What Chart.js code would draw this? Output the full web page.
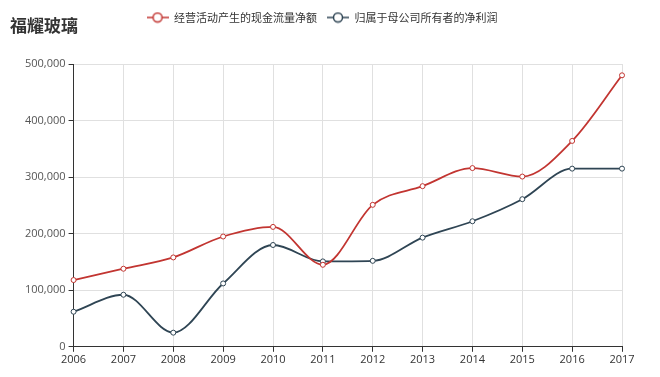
<!DOCTYPE html>
<html>
<head>
<meta charset="utf-8">
<script src="https://cdn.jsdelivr.net/npm/chart.js@4/dist/chart.umd.min.js"></script>
<style>
  html, body { margin: 0; padding: 0; background: #fff; }
  #wrap { position: relative; width: 660px; height: 377px; }
  #title { position: absolute; left: 10px; top: 12px; font: bold 17px "Noto Sans CJK SC", sans-serif; color: #333; }
</style>
</head>
<body>
<div id="wrap">
  <canvas id="myChart" width="660" height="377"></canvas>
  <div id="title">福耀玻璃</div>
</div>
<script>
const years = ["2006","2007","2008","2009","2010","2011","2012","2013","2014","2015","2016","2017"];
const cashFlow = [118000,138000,158000,195000,212000,145000,251000,284000,316000,301000,364000,480000];
const netProfit = [62000,92000,25000,112000,180000,151000,152000,193000,222000,261000,315000,315000];
const yTicks = [0,100000,200000,300000,400000,500000];

function legendIcon(color) {
  var c = document.createElement("canvas");
  c.width = 22; c.height = 12;
  var g = c.getContext("2d");
  g.strokeStyle = color; g.lineWidth = 1.5;
  g.beginPath(); g.moveTo(0, 6); g.lineTo(22, 6); g.stroke();
  g.beginPath(); g.arc(11, 6, 4.5, 0, Math.PI * 2);
  g.fillStyle = "#fff"; g.fill(); g.stroke();
  return c;
}

// make the legend box taller so the plot starts lower
const legendHeight = {
  id: "legendHeight",
  beforeInit: function(chart) {
    const fit = chart.legend.fit;
    chart.legend.fit = function() {
      fit.bind(chart.legend)();
      this.height = 62;
    };
  }
};

var ctx = document.getElementById("myChart").getContext("2d");
const chart = new Chart(ctx, {
  type: "line",
  plugins: [legendHeight],
  data: {
    labels: years,
    datasets: [{
      label: "经营活动产生的现金流量净额",
      data: cashFlow,
      borderColor: "#c23531",
      backgroundColor: "#fff",
      pointBorderColor: "#c23531",
      borderWidth: 1.8,
      pointRadius: 2.5,
      pointBorderWidth: 1,
      cubicInterpolationMode: "monotone",
      fill: false
    },{
      label: "归属于母公司所有者的净利润",
      data: netProfit,
      borderColor: "#2f4554",
      backgroundColor: "#fff",
      pointBorderColor: "#2f4554",
      borderWidth: 1.8,
      pointRadius: 2.5,
      pointBorderWidth: 1,
      cubicInterpolationMode: "monotone",
      fill: false
    }]
  },
  options: {
    responsive: false,
    animation: false,
    layout: { padding: { left: 22, right: 38, top: 2, bottom: 10 } },
    plugins: {
      tooltip: { enabled: false },
      legend: {
        display: true,
        labels: {
          usePointStyle: true,
          pointStyleWidth: 22,
          color: "#333",
          font: { family: "'Noto Sans CJK SC', sans-serif", size: 11 },
          padding: 10,
          generateLabels: function(ch) {
            return ch.data.datasets.map(function(ds, i) {
              return {
                text: ds.label,
                pointStyle: legendIcon(ds.borderColor),
                fontColor: "#333",
                lineWidth: 0,
                strokeStyle: ds.borderColor,
                fillStyle: "#fff",
                datasetIndex: i,
                hidden: false
              };
            });
          }
        }
      }
    },
    scales: {
      x: {
        offset: false,
        grid: { color: "#e0e0e0", tickColor: "#333", tickLength: 5 },
        border: { color: "#333", width: 1 },
        ticks: { color: "#333", font: { family: "'Open Sans', sans-serif", size: 11 }, padding: 1, maxRotation: 0, autoSkip: false }
      },
      y: {
        min: 0,
        max: 500000,
        afterBuildTicks: function(axis) { axis.ticks = yTicks.map(function(v) { return { value: v }; }); },
        grid: { color: "#e0e0e0", tickColor: "#333", tickLength: 5 },
        border: { color: "#333", width: 1 },
        ticks: {
          color: "#555",
          font: { family: "'Open Sans', sans-serif", size: 11 },
          padding: 3,
          callback: function(v) { return v.toLocaleString("en-US"); }
        }
      }
    }
  }
});
</script>
</body>
</html>
